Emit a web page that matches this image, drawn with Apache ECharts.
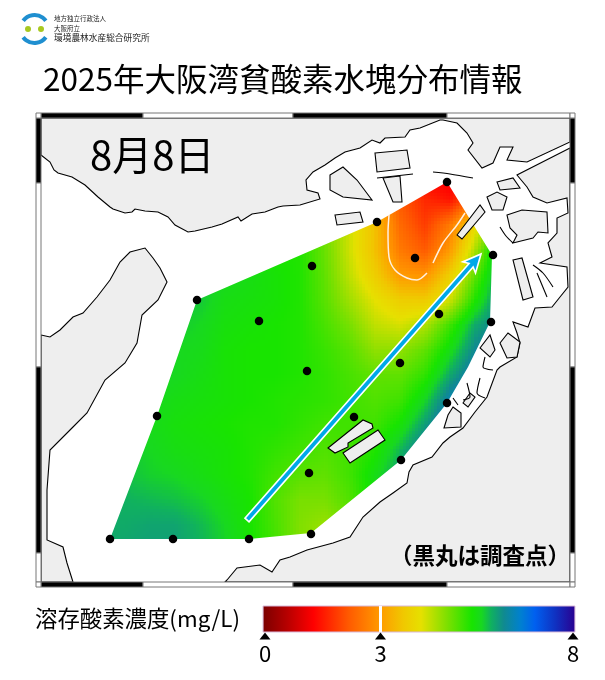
<!DOCTYPE html>
<html lang="ja">
<head>
<meta charset="utf-8">
<title>2025年大阪湾貧酸素水塊分布情報</title>
<script src="https://cdn.jsdelivr.net/npm/echarts@6/dist/echarts.min.js"></script>
<style>
  html, body { margin: 0; padding: 0; background: #fff; }
  #chart { width: 605px; height: 680px; }
</style>
</head>
<body>
<div id="chart"></div>
<script>
// === Data (map coordinates are the axis units) ===
const titleText = "2025年大阪湾貧酸素水塊分布情報";
const dateText = "8月8日";
const noteText = "（黒丸は調査点）";
const legendText = "溶存酸素濃度(mg/L)";
const legendTicks = [0, 3, 8];

// Dissolved oxygen sampled on the picture, one row per y, one column per x
const fieldX = [100, 125, 150, 175, 200, 225, 250, 275, 300, 325, 350, 375, 400, 425, 450, 475, 500];
const fieldY = [175, 200, 225, 250, 275, 300, 325, 350, 375, 400, 425, 450, 475, 500, 525, 550];
const fieldValues = [
  [5.7, 5.7, 5.7, 5.7, 5.6, 5.5, 5.4, 5.3, 5.2, 4.7, 4.0, 3.1, 2.0, 1.3, 1.1, 1.4, 2.4],
  [5.7, 5.7, 5.7, 5.7, 5.6, 5.5, 5.4, 5.3, 5.2, 4.7, 4.1, 3.3, 2.2, 1.7, 1.5, 2.4, 3.6],
  [5.7, 5.7, 5.7, 5.7, 5.6, 5.5, 5.4, 5.3, 5.25, 4.75, 4.2, 3.5, 2.4, 1.9, 2.6, 3.9, 5.0],
  [5.7, 5.7, 5.7, 5.7, 5.6, 5.5, 5.45, 5.35, 5.3, 4.85, 4.2, 3.5, 2.6, 2.2, 3.0, 4.4, 5.9],
  [5.7, 5.7, 5.7, 5.7, 5.7, 5.6, 5.5, 5.4, 5.3, 4.9, 4.3, 3.7, 3.0, 2.9, 3.7, 4.9, 6.0],
  [5.7, 5.7, 5.7, 5.7, 5.7, 5.5, 5.45, 5.4, 5.3, 4.95, 4.5, 4.05, 3.7, 3.65, 4.2, 5.3, 6.2],
  [5.7, 5.7, 5.7, 5.7, 5.6, 5.45, 5.4, 5.35, 5.3, 5.05, 4.75, 4.3, 4.15, 4.4, 5.1, 5.9, 6.3],
  [5.7, 5.7, 5.65, 5.6, 5.55, 5.4, 5.35, 5.35, 5.3, 5.15, 4.95, 4.6, 4.6, 4.9, 5.5, 6.2, 6.5],
  [5.7, 5.7, 5.65, 5.6, 5.5, 5.4, 5.35, 5.35, 5.3, 5.2, 5.05, 4.9, 4.9, 5.2, 5.9, 6.5, 6.8],
  [5.7, 5.7, 5.6, 5.5, 5.45, 5.4, 5.35, 5.3, 5.25, 5.2, 5.1, 5.0, 5.1, 5.6, 6.4, 6.8, 7.0],
  [5.7, 5.7, 5.55, 5.45, 5.4, 5.35, 5.3, 5.3, 5.2, 5.1, 5.1, 5.1, 5.4, 6.0, 6.7, 7.0, 7.0],
  [5.75, 5.7, 5.6, 5.5, 5.45, 5.4, 5.3, 5.2, 5.1, 5.0, 5.1, 5.3, 5.8, 6.4, 6.8, 7.0, 7.0],
  [5.8, 5.75, 5.65, 5.6, 5.5, 5.4, 5.3, 5.1, 4.95, 4.9, 5.1, 5.5, 6.0, 6.5, 6.8, 7.0, 7.0],
  [5.85, 5.85, 5.8, 5.75, 5.65, 5.5, 5.35, 5.0, 4.75, 4.75, 5.0, 5.5, 6.0, 6.5, 6.8, 7.0, 7.0],
  [5.9, 5.9, 5.95, 5.95, 5.8, 5.6, 5.35, 5.05, 4.7, 4.55, 4.8, 5.4, 5.9, 6.4, 6.7, 7.0, 7.0],
  [5.9, 5.95, 6.0, 6.0, 5.85, 5.65, 5.4, 5.1, 4.7, 4.5, 4.7, 5.3, 5.8, 6.3, 6.6, 7.0, 7.0]
];

// Colour scale of the legend
const scaleValues = [0, 0.6, 1.3, 2.2, 3, 3.6, 4.05, 4.7, 5.35, 5.6, 5.85, 6.17, 6.6, 6.96, 7.5, 8];
const scaleColors = ["#7a0000", "#b40000", "#ff0000", "#ff5a00", "#ff9a00", "#f0c800", "#e6e000", "#80e000",
  "#18e400", "#18d820", "#10b060", "#108a90", "#0080d0", "#0060f0", "#1030c0", "#2a0090"];

// Survey stations
const stationX = [447, 377, 415, 493, 312, 197, 259, 439, 491, 307, 400, 157, 447, 354, 401, 309, 311, 110, 173, 249];
const stationY = [182, 222, 258, 255, 266, 300, 321, 314, 322, 371, 363, 416, 403, 417, 460, 473, 534, 539, 539, 539];

// Outline of the interpolated area
const fieldOutline = [[110, 539], [249, 539], [311, 533], [401, 460], [447, 403], [468, 367], [490, 322], [492, 255],
  [447, 182], [377, 222], [197, 300], [157, 416]];

// 3 mg/L contour, broken where the original breaks it
const contourA = [[389, 215], [388, 233], [389, 257], [395, 270], [407, 278], [417, 280], [427, 273]];
const contourB = [[433, 263], [443, 243], [457, 225], [465, 213]];

// Axis of the bay
const arrowFrom = [247, 520];
const arrowTo = [481, 254];

// Land
const northLand = [[41, 155], [50, 162], [54, 170], [58, 173], [65, 175], [72, 177], [85, 185], [98, 197], [110, 207],
  [113, 209], [125, 213], [132, 212], [135, 209], [145, 211], [158, 212], [168, 217], [175, 225], [188, 232], [195, 231],
  [212, 227], [222, 224], [238, 217], [241, 221], [252, 214], [265, 212], [278, 207], [283, 206], [300, 205], [320, 199],
  [318, 193], [307, 190], [306, 180], [313, 172], [325, 165], [335, 158], [345, 152], [360, 148], [372, 140], [380, 143],
  [385, 138], [405, 137], [410, 130], [420, 128], [440, 120], [443, 120], [457, 123], [467, 133], [473, 143], [468, 150],
  [482, 168], [493, 163], [500, 147], [513, 147], [507, 160], [527, 162], [570, 142], [570, 118], [41, 118]];
const awajiLand = [[41, 335], [50, 337], [60, 330], [73, 317], [83, 313], [97, 297], [110, 280], [120, 262], [130, 252],
  [145, 248], [153, 258], [160, 268], [167, 282], [158, 300], [142, 315], [137, 343], [125, 363], [105, 380], [87, 413],
  [73, 427], [50, 450], [47, 490], [47, 540], [63, 547], [67, 563], [73, 582], [41, 582]];
const eastLand = [[570, 148], [517, 175], [527, 187], [533, 197], [547, 203], [567, 198], [568, 213], [557, 218], [557, 233],
  [548, 243], [552, 257], [540, 263], [567, 267], [568, 287], [560, 297], [552, 307], [535, 308], [528, 327], [513, 322],
  [517, 333], [520, 343], [517, 357], [500, 367], [497, 370], [487, 397], [475, 412], [463, 428], [450, 437], [443, 443],
  [432, 457], [413, 465], [409, 472], [407, 483], [393, 493], [380, 502], [363, 517], [350, 537], [333, 543], [307, 550],
  [290, 557], [280, 560], [272, 572], [260, 565], [237, 568], [227, 580], [225, 582], [570, 582]];
const islands = [
  [[375, 153], [407, 150], [410, 168], [377, 172]],
  [[335, 215], [360, 212], [363, 222], [337, 225]],
  [[383, 178], [400, 176], [402, 202], [393, 202]],
  [[330, 175], [343, 167], [357, 180], [372, 200], [343, 197], [330, 190]],
  [[507, 215], [522, 210], [547, 212], [548, 233], [538, 232], [533, 238], [513, 243], [517, 235], [510, 228]],
  [[497, 182], [513, 178], [520, 188], [500, 190]],
  [[487, 197], [497, 192], [507, 197], [503, 210], [492, 210]],
  [[513, 260], [522, 258], [533, 297], [523, 300]],
  [[480, 348], [490, 335], [495, 350], [490, 357]],
  [[500, 343], [508, 333], [520, 342], [517, 357], [507, 358]],
  [[453, 407], [461, 413], [461, 427], [444, 428], [448, 415]],
  [[463, 403], [470, 393], [475, 397], [468, 407]]
];
// Drawn over the coloured area
const overlayIslands = [
  [[457, 235], [480, 205], [485, 212], [462, 239]],
  [[328, 448], [363, 420], [372, 424], [373, 428], [348, 443], [348, 447], [335, 453]],
  [[343, 453], [378, 430], [385, 440], [350, 463]]
];
const seaWalls = [
  [[433, 172], [450, 174], [473, 178]],
  [[377, 178], [413, 174]],
  [[467, 383], [470, 397], [463, 400]],
  [[480, 378], [477, 393], [485, 398]],
  [[493, 370], [483, 367], [485, 357]],
  [[453, 398], [458, 405]],
  [[533, 265], [543, 273], [553, 287]],
  [[537, 273], [547, 297]],
  [[500, 227], [506, 236], [513, 243]]
];

// Map frame bars: alternating black and white between the breaks
const frameX = [41, 143, 293, 447, 570];
const frameY = [118, 183, 367, 553, 582];

// === Helpers ===
function doColor(value) {
  let i = 0;
  while (i < scaleValues.length - 2 && value > scaleValues[i + 1]) i++;
  const t = (value - scaleValues[i]) / (scaleValues[i + 1] - scaleValues[i]);
  return echarts.color.lerp(Math.min(1, Math.max(0, t)), [scaleColors[i], scaleColors[i + 1]]);
}

function polygonSeries(polygons, z, fill) {
  return {
    type: "custom",
    xAxisIndex: 0,
    yAxisIndex: 0,
    z: z,
    silent: true,
    clip: false,
    data: polygons.map((p, i) => [i]),
    renderItem: (params, api) => ({
      type: "polygon",
      shape: { points: polygons[params.dataIndex].map(p => api.coord(p)) },
      style: { fill: fill, stroke: "#000", lineWidth: 1.1 }
    })
  };
}

function lineSeries(points, z, color, width) {
  return {
    type: "line",
    xAxisIndex: 0,
    yAxisIndex: 0,
    z: z,
    silent: true,
    symbol: "none",
    smooth: 0.3,
    lineStyle: { color: color, width: width },
    data: points
  };
}

// One group per sampled cell, shaded in small squares between its four corners
function renderFieldCell(params, api) {
  const [i, j] = fieldCells[params.dataIndex];
  const p0 = api.coord([fieldX[i], fieldY[j]]);
  const p1 = api.coord([fieldX[i + 1], fieldY[j + 1]]);
  const v = fieldValues;
  const children = [];
  const step = 3;
  for (let py = p0[1]; py < p1[1]; py += step) {
    for (let px = p0[0]; px < p1[0]; px += step) {
      const tx = (px + step / 2 - p0[0]) / (p1[0] - p0[0]);
      const ty = (py + step / 2 - p0[1]) / (p1[1] - p0[1]);
      const top = v[j][i] * (1 - tx) + v[j][i + 1] * tx;
      const bottom = v[j + 1][i] * (1 - tx) + v[j + 1][i + 1] * tx;
      children.push({
        type: "rect",
        shape: {
          x: px, y: py,
          width: Math.min(step, p1[0] - px),
          height: Math.min(step, p1[1] - py)
        },
        style: { fill: doColor(top * (1 - ty) + bottom * ty) }
      });
    }
  }
  return {
    type: "group",
    children: children,
    clipPath: { type: "polygon", shape: { points: fieldOutline.map(p => api.coord(p)) } }
  };
}

function renderFrame(params, api) {
  const [x0, y0, x1, y1, black] = frameData[params.dataIndex];
  const a = api.coord([x0, y0]);
  const b = api.coord([x1, y1]);
  return {
    type: "rect",
    shape: { x: a[0], y: a[1], width: b[0] - a[0], height: b[1] - a[1] },
    style: { fill: black ? "#000" : "#fff", stroke: "#777", lineWidth: 1 }
  };
}

function frameBars() {
  const bars = [];
  for (let i = 0; i < frameX.length - 1; i++) {
    const black = i % 2 === 0;
    bars.push([frameX[i], 113, frameX[i + 1], 118, black]);
    bars.push([frameX[i], 582, frameX[i + 1], 587, black]);
    bars.push([36, frameY[i], 41, frameY[i + 1], black]);
    bars.push([570, frameY[i], 575, frameY[i + 1], black]);
  }
  for (const x of [36, 570]) {
    for (const y of [113, 582]) bars.push([x, y, x + 5, y + 5, false]);
  }
  return bars;
}

function renderArrow(params, api) {
  const a = api.coord(arrowFrom);
  const b = api.coord(arrowTo);
  const len = Math.hypot(b[0] - a[0], b[1] - a[1]);
  const ux = (b[0] - a[0]) / len;
  const uy = (b[1] - a[1]) / len;
  const at = (along, side) => [b[0] - ux * along - uy * side, b[1] - uy * along + ux * side];
  const shaft = 2.7;
  const wing = 8.5;
  const head = 18;
  return {
    type: "polygon",
    shape: {
      points: [at(0, 0), at(head, wing), at(head - 3, shaft), at(len, shaft), at(len, -shaft), at(head - 3, -shaft), at(head, -wing)]
    },
    style: { fill: "#00a8e8", stroke: "#fff", lineWidth: 1.6, lineJoin: "miter" }
  };
}

// === Chart ===
const fieldCells = [];
for (let j = 0; j < fieldY.length - 1; j++) {
  for (let i = 0; i < fieldX.length - 1; i++) fieldCells.push([i, j]);
}
const frameData = frameBars();

const jpFont = '"Noto Sans CJK JP", sans-serif';
const chart = echarts.init(document.getElementById("chart"), null, { renderer: "canvas" });

chart.setOption({
  animation: false,
  backgroundColor: "#fff",
  title: {
    text: titleText,
    left: 43,
    top: 63,
    padding: 0,
    textStyle: { fontFamily: jpFont, fontSize: 31.5, fontWeight: "normal", color: "#000" }
  },
  grid: [
    { left: 36, top: 113, width: 539, height: 474 },
    { left: 265, top: 606, width: 308, height: 34 }
  ],
  xAxis: [
    { type: "value", gridIndex: 0, min: 36, max: 575, show: false },
    {
      type: "value", gridIndex: 1, min: 0, max: 8,
      axisLine: { show: false },
      axisTick: { show: false },
      splitLine: { show: false },
      axisLabel: {
        customValues: legendTicks,
        margin: 3,
        color: "#000",
        fontSize: 22,
        fontFamily: jpFont
      }
    }
  ],
  yAxis: [
    { type: "value", gridIndex: 0, min: 113, max: 587, inverse: true, show: false },
    { type: "value", gridIndex: 1, min: -0.308, max: 1, show: false }
  ],
  series: [
    polygonSeries([northLand, awajiLand, eastLand].concat(islands), 1, "#eeeeee"),
    {
      type: "custom",
      xAxisIndex: 0,
      yAxisIndex: 0,
      z: 2,
      silent: true,
      clip: false,
      progressive: 0,
      data: fieldCells,
      renderItem: renderFieldCell
    },
    polygonSeries(overlayIslands, 3, "#eeeeee"),
    ...seaWalls.map(w => lineSeries(w, 3, "#000", 1.1)),
    lineSeries(contourA, 4, "#fff0e0", 1.5),
    lineSeries(contourB, 4, "#fff0e0", 1.5),
    {
      type: "custom",
      xAxisIndex: 0,
      yAxisIndex: 0,
      z: 5,
      silent: true,
      clip: false,
      data: [[0]],
      renderItem: renderArrow
    },
    {
      type: "scatter",
      xAxisIndex: 0,
      yAxisIndex: 0,
      z: 6,
      silent: true,
      symbolSize: 8.5,
      itemStyle: { color: "#000", opacity: 1 },
      data: stationX.map((x, i) => [x, stationY[i]])
    },
    {
      type: "custom",
      xAxisIndex: 0,
      yAxisIndex: 0,
      z: 7,
      silent: true,
      clip: false,
      data: frameData,
      renderItem: renderFrame
    },
    // Legend bar
    {
      type: "custom",
      xAxisIndex: 1,
      yAxisIndex: 1,
      silent: true,
      clip: false,
      data: [[0]],
      renderItem: (params, api) => {
        const a = api.coord([-0.05, 1]);
        const b = api.coord([8.05, 0]);
        const gap = api.coord([3, 0]);
        return {
          type: "group",
          children: [
            {
              type: "rect",
              shape: { x: a[0], y: a[1], width: b[0] - a[0], height: b[1] - a[1] },
              style: {
                fill: new echarts.graphic.LinearGradient(0, 0, 1, 0,
                  scaleValues.map((v, i) => ({ offset: v / 8, color: scaleColors[i] }))),
                stroke: "#d8b8d8",
                lineWidth: 1
              }
            },
            {
              type: "line",
              shape: { x1: gap[0], y1: a[1], x2: gap[0], y2: b[1] },
              style: { stroke: "#fff", lineWidth: 3 }
            }
          ]
        };
      }
    },
    {
      type: "scatter",
      xAxisIndex: 1,
      yAxisIndex: 1,
      silent: true,
      clip: false,
      symbol: "triangle",
      symbolSize: [11, 7],
      itemStyle: { color: "#000", opacity: 1 },
      data: legendTicks.map(v => [v, -0.154])
    }
  ],
  graphic: [
    { type: "text", left: 90, top: 135, style: { text: dateText, font: "40px " + jpFont, fill: "#000" }, z: 10 },
    { type: "text", left: 390, top: 544, style: { text: noteText, font: "bold 22.5px " + jpFont, fill: "#000" }, z: 10 },
    { type: "text", left: 35, top: 607, style: { text: legendText, font: "22.4px " + jpFont, fill: "#000" } },
    // Institute logo
    { type: "arc", shape: { cx: 34.5, cy: 29, r: 14, startAngle: Math.PI * 1.2, endAngle: Math.PI * 1.8 }, style: { stroke: "#1f8fd0", lineWidth: 4, fill: "none" } },
    { type: "arc", shape: { cx: 34.5, cy: 29, r: 14, startAngle: Math.PI * 0.2, endAngle: Math.PI * 0.8 }, style: { stroke: "#1f8fd0", lineWidth: 4, fill: "none" } },
    { type: "circle", shape: { cx: 28, cy: 29, r: 3 }, style: { fill: "#a8c820" } },
    { type: "circle", shape: { cx: 41, cy: 29, r: 3 }, style: { fill: "#a8c820" } },
    { type: "text", left: 54, top: 15, style: { text: "地方独立行政法人", font: "6.5px " + jpFont, fill: "#222" } },
    { type: "text", left: 54, top: 25, style: { text: "大阪府立", font: "6.5px " + jpFont, fill: "#222" } },
    { type: "text", left: 54, top: 33, style: { text: "環境農林水産総合研究所", font: "8.7px " + jpFont, fill: "#222" } }
  ]
});
</script>
</body>
</html>
